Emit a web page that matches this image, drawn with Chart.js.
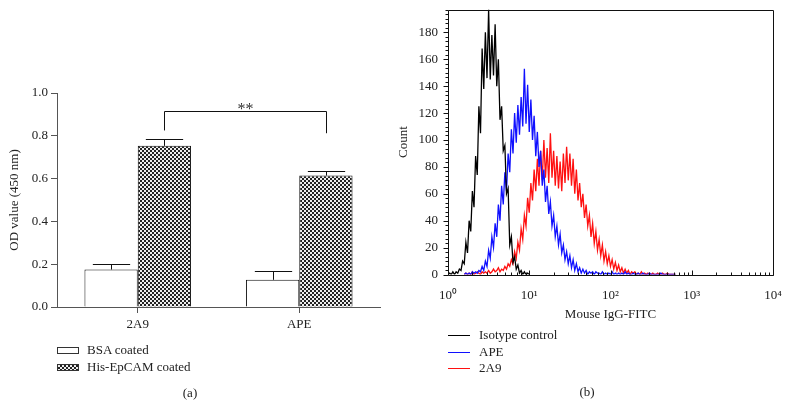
<!DOCTYPE html>
<html>
<head>
<meta charset="utf-8">
<script src="https://cdn.jsdelivr.net/npm/chart.js@4.4.1/dist/chart.umd.min.js"></script>
<style>
  body { margin: 0; background: #fff; font-family: 'Liberation Serif', 'Times New Roman', serif; color: #222; }
  #page { position: relative; width: 789px; height: 407px; overflow: hidden; }
  canvas { position: absolute; top: 0; }
  #odChart { left: 0; }
  #facsChart { left: 390px; }
  .item { position: absolute; font-size: 13px; height: 16px; line-height: 16px; white-space: nowrap; }
  .swatch { position: absolute; left: -30px; top: 5px; width: 20px; height: 5px; border: 1px solid #333; background: #fff; }
  .checker { background: repeating-conic-gradient(#222 0 25%, #eee 0 50%) 0 0 / 4px 4px; }
  .line { position: absolute; left: -31px; top: 8px; width: 22px; height: 1px; }
  .caption { position: absolute; font-size: 13px; transform: translate(-50%, -50%); }
</style>
</head>
<body>
<div id="page">
  <canvas id="odChart" width="390" height="407"></canvas>
  <canvas id="facsChart" width="399" height="407"></canvas>

  <div class="item" style="left:87px; top:342px;"><span class="swatch"></span>BSA coated</div>
  <div class="item" style="left:87px; top:359px;"><span class="swatch checker"></span>His-EpCAM coated</div>
  <div class="caption" style="left:190px; top:393px;">(a)</div>

  <div class="item" style="left:479px; top:327px;"><span class="line" style="background:#000000"></span>Isotype control</div>
  <div class="item" style="left:479px; top:344px;"><span class="line" style="background:#1010ff"></span>APE</div>
  <div class="item" style="left:479px; top:360px;"><span class="line" style="background:#ff1010"></span>2A9</div>
  <div class="caption" style="left:587px; top:392px;">(b)</div>
</div>

<script>
// ---------------- (a) ELISA bar chart data ----------------
const groups = ['2A9', 'APE'];
const bsaValues = [0.175, 0.127];
const bsaErrors = [0.028, 0.040];
const hisValues = [0.753, 0.614];
const hisErrors = [0.031, 0.020];
const odTicks = [0, 0.2, 0.4, 0.6, 0.8, 1.0];
const sigTop = 0.918;
const sigEnds = [0.825, 0.812];
const sigLabel = '**';

// ---------------- (b) flow cytometry histogram data ----------------
// counts per channel, channels spaced 0.02 decades apart starting at *Start
const binWidth = 0.02;
const isotypeStart = 0.0;
const isotypeCounts = [
  0, 1, 0, 2, 0, 2, 1, 4, 3, 10,
  8, 24, 16, 40, 32, 62, 50, 88, 74, 125,
  105, 168, 138, 180, 146, 197, 145, 178, 148, 186,
  140, 160, 115, 125, 92, 96, 60, 64, 22, 28,
  9, 13, 4, 7, 1, 3, 0, 2, 0, 1,
  0
];
const apeStart = 0.2;
const apeCounts = [
  0, 1, 0, 1, 0, 2, 1, 2, 1, 3,
  2, 6, 3, 10, 6, 18, 12, 28, 20, 38,
  28, 52, 40, 66, 52, 76, 62, 90, 76, 108,
  90, 120, 98, 126, 104, 132, 110, 153, 112, 141,
  106, 130, 100, 118, 88, 106, 80, 92, 66, 78,
  54, 66, 45, 54, 36, 44, 28, 36, 22, 30,
  16, 22, 11, 17, 8, 14, 5, 11, 3, 8,
  2, 5, 1, 4, 1, 3, 0, 2, 1, 2,
  0, 2, 1, 1, 0, 2, 0, 1, 0, 1,
  0, 2, 0, 1, 0, 1, 0, 1, 0, 2,
  0, 1, 0, 0, 1, 0, 0, 1, 0, 0,
  1, 0, 0, 0, 1, 0, 0, 0, 0, 0,
  0, 1, 0, 0, 0, 0, 0, 0, 0, 0,
  0
];
const a2a9Start = 0.2;
const a2a9Counts = [
  0, 1, 0, 1, 0, 2, 0, 1, 2, 1,
  0, 2, 1, 2, 1, 3, 1, 2, 4, 2,
  3, 5, 2, 4, 3, 6, 4, 8, 6, 11,
  8, 17, 12, 24, 18, 34, 26, 44, 36, 57,
  46, 68, 55, 78, 62, 86, 66, 92, 70, 100,
  72, 94, 68, 105, 72, 92, 66, 88, 64, 84,
  62, 90, 68, 95, 70, 90, 66, 86, 60, 78,
  55, 68, 50, 60, 42, 52, 36, 44, 28, 38,
  23, 32, 18, 26, 14, 22, 10, 17, 8, 14,
  6, 11, 4, 9, 3, 7, 2, 5, 1, 4,
  1, 3, 0, 2, 1, 2, 0, 1, 0, 2,
  0, 1, 0, 1, 0, 0, 1, 0, 0, 1,
  0, 0, 1, 0, 0, 1, 0, 0, 0, 0,
  0
];
const countTicks = [0, 20, 40, 60, 80, 100, 120, 140, 160, 180];
const countMax = 197;
const fitcTicks = [1, 10, 100, 1000, 10000];
const fitcLabels = ['10\u2070', '10\u00b9', '10\u00b2', '10\u00b3', '10\u2074'];

Chart.defaults.font.family = "'Liberation Serif', 'Times New Roman', serif";
Chart.defaults.font.size = 13;
Chart.defaults.color = '#222';
Chart.defaults.animation = false;

function checkerPattern(ctx) {
  const c = document.createElement('canvas');
  c.width = 4; c.height = 4;
  const g = c.getContext('2d');
  g.fillStyle = '#eeeeee';
  g.fillRect(0, 0, 4, 4);
  g.fillStyle = '#222222';
  g.fillRect(0, 0, 2, 2);
  g.fillRect(2, 2, 2, 2);
  return ctx.createPattern(c, 'repeat');
}

function toPoints(start, counts) {
  return counts.map((c, i) => ({ x: Math.pow(10, start + i * binWidth), y: c }));
}

// error bars + significance bracket
const odExtras = {
  id: 'odExtras',
  afterDatasetsDraw(chart) {
    const { ctx, scales: { y } } = chart;
    const errs = [bsaErrors, hisErrors];
    ctx.save();
    ctx.strokeStyle = '#111';
    ctx.lineWidth = 1;
    ctx.beginPath();
    chart.data.datasets.forEach((ds, di) => {
      chart.getDatasetMeta(di).data.forEach((bar, i) => {
        const v = ds.data[i];
        const x = Math.round(bar.x) + 0.5;
        const y0 = y.getPixelForValue(v);
        const y1 = Math.round(y.getPixelForValue(v + errs[di][i])) + 0.5;
        const cap = bar.width * 0.35;
        ctx.moveTo(x, y0);
        ctx.lineTo(x, y1);
        ctx.moveTo(x - cap, y1);
        ctx.lineTo(x + cap, y1);
      });
    });
    const his = chart.getDatasetMeta(1).data;
    const xl = Math.round(his[0].x) + 0.5;
    const xr = Math.round(his[1].x) + 0.5;
    const yt = Math.round(y.getPixelForValue(sigTop)) + 0.5;
    ctx.moveTo(xl, y.getPixelForValue(sigEnds[0]));
    ctx.lineTo(xl, yt);
    ctx.lineTo(xr, yt);
    ctx.lineTo(xr, y.getPixelForValue(sigEnds[1]));
    ctx.stroke();
    ctx.fillStyle = '#333';
    ctx.font = "16px 'Liberation Serif', serif";
    ctx.textAlign = 'center';
    ctx.textBaseline = 'alphabetic';
    ctx.fillText(sigLabel, (xl + xr) / 2, yt + 2);
    ctx.restore();
  }
};

const odCtx = document.getElementById('odChart').getContext('2d');
new Chart(odCtx, {
  type: 'bar',
  data: {
    labels: groups,
    datasets: [{
      label: 'BSA coated',
      data: bsaValues,
      backgroundColor: '#ffffff',
      borderColor: '#111',
      borderWidth: 1
    }, {
      label: 'His-EpCAM coated',
      data: hisValues,
      backgroundColor: checkerPattern(odCtx),
      borderColor: '#111',
      borderWidth: 1
    }]
  },
  options: {
    responsive: false,
    barPercentage: 1,
    categoryPercentage: 0.66,
    layout: { padding: { left: 7, top: 93, right: 10, bottom: 60 } },
    plugins: { legend: { display: false }, tooltip: { enabled: false } },
    scales: {
      x: {
        grid: { drawOnChartArea: false, offset: false, tickLength: 6, tickColor: '#555' },
        border: { color: '#555' },
        ticks: { padding: 4 },
        afterFit: s => { s.height = 40; }
      },
      y: {
        min: 0,
        max: 1,
        afterBuildTicks: s => { s.ticks = odTicks.map(v => ({ value: v })); },
        grid: { drawOnChartArea: false, tickLength: 6, tickColor: '#555' },
        border: { color: '#555' },
        ticks: { padding: 3, callback: v => v.toFixed(1) },
        title: { display: true, text: 'OD value (450 nm)', padding: 0 },
        afterFit: s => { s.width = 50; }
      }
    }
  },
  plugins: [odExtras]
});

// frame + minor ticks for the histogram
const facsFrame = {
  id: 'facsFrame',
  afterDraw(chart) {
    const { ctx, chartArea: a, scales: { x, y } } = chart;
    ctx.save();
    ctx.strokeStyle = '#111';
    ctx.lineWidth = 1;
    ctx.beginPath();
    const l = Math.round(a.left) + 0.5, r = Math.round(a.right) + 0.5;
    const t = Math.round(a.top) + 0.5, b = Math.round(a.bottom) + 0.5;
    ctx.rect(l, t, r - l, b - t);
    for (let i = 0; i * 20 / 6 <= countMax; i++) {
      const py = Math.round(y.getPixelForValue(i * 20 / 6)) + 0.5;
      ctx.moveTo(l, py);
      ctx.lineTo(l - (i % 6 === 0 ? 5 : 3), py);
    }
    for (let d = 1; d < 10000; d *= 10) {
      for (let m = 2; m <= 10; m++) {
        const px = Math.round(x.getPixelForValue(d * m)) + 0.5;
        ctx.moveTo(px, b);
        ctx.lineTo(px, b - (m === 10 ? 5 : 3));
      }
    }
    ctx.stroke();
    ctx.restore();
  }
};

new Chart(document.getElementById('facsChart'), {
  type: 'line',
  data: {
    datasets: [{
      label: 'Isotype control',
      data: toPoints(isotypeStart, isotypeCounts),
      borderColor: '#000000'
    }, {
      label: 'APE',
      data: toPoints(apeStart, apeCounts),
      borderColor: '#1010ff'
    }, {
      label: '2A9',
      data: toPoints(a2a9Start, a2a9Counts),
      borderColor: '#ff1010'
    }]
  },
  options: {
    responsive: false,
    elements: { line: { borderWidth: 1.3, tension: 0 }, point: { radius: 0 } },
    layout: { padding: { left: 5.5, top: 9.5, right: 16, bottom: 85 } },
    plugins: { legend: { display: false }, tooltip: { enabled: false } },
    scales: {
      x: {
        type: 'logarithmic',
        min: 1,
        max: 10000,
        afterBuildTicks: s => { s.ticks = fitcTicks.map(v => ({ value: v })); },
        grid: { display: false, drawTicks: false },
        border: { display: false },
        ticks: { padding: 13, autoSkip: false, maxRotation: 0,
                 callback: v => fitcLabels[fitcTicks.indexOf(v)] },
        title: { display: true, text: 'Mouse IgG-FITC', padding: 0 },
        afterFit: s => { s.height = 47.5; s.paddingLeft = 0; s.paddingRight = 0; }
      },
      y: {
        min: 0,
        max: countMax,
        afterBuildTicks: s => { s.ticks = countTicks.map(v => ({ value: v })); },
        grid: { display: false, drawTicks: false },
        border: { display: false },
        ticks: { padding: 10 },
        title: { display: true, text: 'Count', padding: 0 },
        afterFit: s => { s.width = 52.5; s.paddingTop = 0; s.paddingBottom = 0; }
      }
    }
  },
  plugins: [facsFrame]
});
</script>
</body>
</html>
